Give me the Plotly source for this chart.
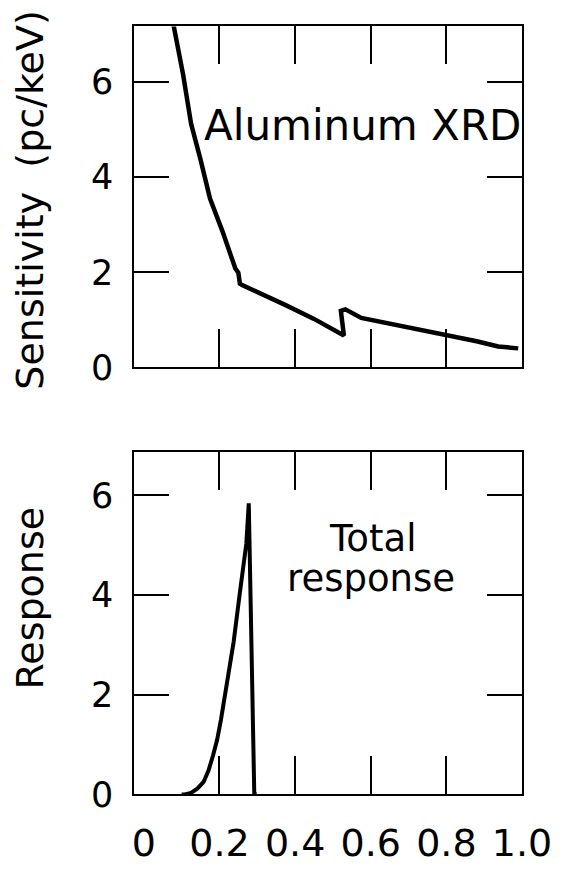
import plotly.graph_objects as go

# ---- data ----
energy_top = [0.073, 0.079, 0.104, 0.125, 0.15, 0.175, 0.208, 0.242, 0.250, 0.254, 0.260,
              0.30, 0.375, 0.45, 0.529, 0.521, 0.533, 0.575, 0.675, 0.75, 0.828, 0.88, 0.937, 0.99]
sensitivity = [7.4, 7.18, 6.15, 5.12, 4.37, 3.55, 2.86, 2.08, 1.99, 1.76, 1.73,
               1.59, 1.31, 1.02, 0.67, 1.19, 1.22, 1.04, 0.88, 0.76, 0.64, 0.55, 0.44, 0.40]

energy_bot = [0.10, 0.108, 0.125, 0.142, 0.158, 0.171, 0.183, 0.194, 0.204, 0.221, 0.2375,
              0.254, 0.271, 0.2775, 0.283, 0.292, 0.296]
response = [0.0, 0.0, 0.03, 0.12, 0.25, 0.48, 0.78, 1.10, 1.50, 2.28, 3.06,
            4.05, 5.03, 5.84, 3.92, 0.03, 0.0]

x_tickvals = [0, 0.2, 0.4, 0.6, 0.8, 1.0]
x_ticktext = ["0", "0.2", "0.4", "0.6", "0.8", "1.0"]
x_marks = [0.2, 0.4, 0.6, 0.8]
y_tickvals = [0, 2, 4, 6]

W, H = 587, 875
FONT = "DejaVu Sans"


def fx(p):
    return p / W


def fy(p):
    return 1 - p / H


fig = go.Figure()
fig.add_trace(go.Scatter(x=energy_top, y=sensitivity, mode="lines",
                         line=dict(color="black", width=4.5),
                         xaxis="x", yaxis="y", showlegend=False))
fig.add_trace(go.Scatter(x=energy_bot, y=response, mode="lines",
                         line=dict(color="black", width=4),
                         xaxis="x2", yaxis="y2", showlegend=False))

xdom = [fx(140), fx(550)]
xcommon = dict(range=[-0.025, 1.0], domain=xdom, showline=True, linewidth=2,
               linecolor="black", mirror="ticks", ticks="",
               tickvals=x_tickvals, ticktext=x_ticktext,
               showgrid=False, zeroline=False,
               tickfont=dict(family=FONT, size=38, color="black"),
               minor=dict(tickvals=x_marks, ticks="inside", ticklen=38,
                          tickwidth=2, tickcolor="black", showgrid=False))
ycommon = dict(tickvals=y_tickvals, ticks="inside", ticklen=35, tickwidth=2,
               tickcolor="black", mirror="ticks", showline=True, linewidth=2,
               linecolor="black", showgrid=False, zeroline=False,
               tickfont=dict(family=FONT, size=35, color="black"),
               ticklabelstandoff=12)


def label(text, x, y, size, angle=0):
    return dict(text=text, textangle=angle, x=fx(x), y=fy(y),
                xref="paper", yref="paper", xanchor="center", yanchor="middle",
                showarrow=False, font=dict(family=FONT, size=size, color="black"))


fig.update_layout(
    width=W, height=H, margin=dict(l=0, r=0, t=0, b=0),
    paper_bgcolor="white", plot_bgcolor="white",
    xaxis=dict(**xcommon, anchor="y", showticklabels=False),
    yaxis=dict(**ycommon, anchor="x", range=[0, 7.17], domain=[fy(376), fy(27)]),
    xaxis2=dict(**xcommon, anchor="y2", showticklabels=True, ticklabelstandoff=14),
    yaxis2=dict(**ycommon, anchor="x2", range=[0, 6.86], domain=[fy(813), fy(463)]),
    annotations=[
        label("Sensitivity  (pc/keV)", 30, 205, 38, -90),
        label("Response", 30, 612, 38, -90),
        label("Aluminum XRD", 381, 128, 42),
        label("Total", 392, 551, 37),
        label("response", 390, 592, 37),
    ],
)

fig.write_html("out.html")
